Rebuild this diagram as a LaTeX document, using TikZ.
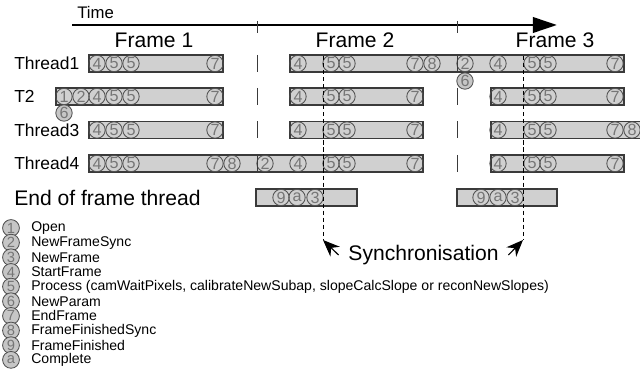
\documentclass[tikz,border=0pt]{standalone}
\usepackage{fontspec}
\setmainfont{Liberation Sans}
\usetikzlibrary{arrows.meta}

\definecolor{barfill}{HTML}{D0D0D0}
\definecolor{barline}{HTML}{3A3A3A}
\definecolor{evtline}{HTML}{505050}
\definecolor{evttext}{HTML}{767676}
\definecolor{keyfill}{HTML}{C6C6C6}

% one row of numbered events: #1 row y, #2 name prefix, #3 list of x/label
\newcommand{\events}[3]{%
  \foreach \x/\n [count=\k] in {#3} \node[evt] (#2-\k) at (\x,#1) {\n};}

\begin{document}
\begin{tikzpicture}[x=0.025cm, y=-0.025cm,
    threadbar/.style={fill=barfill, draw=barline, line width=0.8pt},
    evt/.style={circle, draw=evtline, text=evttext, line width=0.6pt, inner sep=0pt,
      minimum size=0.41cm, font=\fontsize{11.5}{11.5}\selectfont},
    loose/.style={evt, fill=keyfill},
    keytext/.style={anchor=west, inner sep=0pt, font=\fontsize{10}{12}\selectfont},
    rowlabel/.style={anchor=west, inner sep=0pt, font=\fontsize{12.4}{14}\selectfont},
    biglabel/.style={font=\fontsize{15}{18}\selectfont},
    sep/.style={draw=barline, line width=0.7pt},
    syncline/.style={densely dashed, line width=0.5pt},
    syncarrow/.style={-{Stealth[length=0.42cm, width=0.34cm]}, line width=0.8pt}]
  \useasboundingbox (0,0) rectangle (640,386);

  % Time axis
  \coordinate (tstart) at (72,25);
  \coordinate (tend) at (557,25);
  \draw[line width=2.1pt, -{Triangle[length=0.6cm, width=0.38cm]}] (tstart) -- (tend);
  \node[anchor=base west, inner sep=0pt, font=\fontsize{11.9}{14}\selectfont] (time) at (77,19) {Time};
  \node[biglabel] (f1) at (154,40) {Frame 1};
  \node[biglabel] (f2) at (355,40) {Frame 2};
  \node[biglabel] (f3) at (555,40) {Frame 3};

  % Thread names
  \node[rowlabel] (th1) at (14,63.5) {Thread1};
  \node[rowlabel] (th2) at (14,96.5) {T2};
  \node[rowlabel] (th3) at (14,130) {Thread3};
  \node[rowlabel] (th4) at (14,163.5) {Thread4};
  \node[rowlabel, font=\fontsize{15}{18}\selectfont] (eof) at (14,197.5) {End of frame thread};

  % Bars
  \draw[threadbar] (89,55) rectangle (223,72);
  \draw[threadbar] (290,55) rectangle (624,72);
  \draw[threadbar] (56,88) rectangle (223,105);
  \draw[threadbar] (290,88) rectangle (423,105);
  \draw[threadbar] (491,88) rectangle (624,105);
  \draw[threadbar] (89,121.5) rectangle (223,138.5);
  \draw[threadbar] (290,121.5) rectangle (423,138.5);
  \draw[threadbar] (491,121.5) rectangle (650,138.5);
  \draw[threadbar] (89,155) rectangle (423,172);
  \draw[threadbar] (491,155) rectangle (624,172);
  \draw[threadbar] (256,189) rectangle (357,206);
  \draw[threadbar] (457,189) rectangle (557,206);

  % Events
  \events{63.5}{ta}{97/4,114/5,131/5,215/7,298/4,331/5,347/5,415/7,432/8,465/2,498/4,532/5,548/5,615/7}
  \events{96.5}{tb}{64/1,81/2,97/4,114/5,131/5,215/7,298/4,331/5,347/5,415/7,498/4,532/5,548/5,615/7}
  \events{130}{tc}{97/4,114/5,131/5,215/7,298/4,331/5,347/5,415/7,498/4,532/5,548/5,615/7,632/8}
  \events{163.5}{td}{97/4,114/5,131/5,215/7,232/8,265/2,298/4,331/5,347/5,415/7,498/4,532/5,548/5,615/7}
  \events{197.5}{te}{281/9,297/a,315/3,481/9,498/a,515/3}
  \node[loose] (np1) at (64,113) {6};
  \node[loose] (np2) at (465,81) {6};

  % Frame boundaries
  \foreach \sx in {257,457} {
    \draw[sep] (\sx,21) -- (\sx,33);
    \foreach \ry in {63.5,96.5,130,163.5}
      \draw[sep] (\sx,\ry-8.5) -- (\sx,\ry+8.5);
  }

  % Synchronisation
  \coordinate (syncl) at (323,240);
  \coordinate (syncr) at (523,240);
  \draw[syncline] (323,56) -- (syncl);
  \draw[syncline] (523,56) -- (syncr);
  \node[biglabel, inner xsep=0.24cm] (sync) at (423.5,255) {Synchronisation};
  \draw[syncarrow] (sync.west) -- (syncl);
  \draw[syncarrow] (sync.east) -- (syncr);

  % Key
  \foreach \n/\t [count=\k from 0] in {1/Open, 2/NewFrameSync, 3/NewFrame, 4/StartFrame,
      5/{Process (camWaitPixels, calibrateNewSubap, slopeCalcSlope or reconNewSlopes)},
      6/NewParam, 7/EndFrame, 8/FrameFinishedSync, 9/FrameFinished, a/Complete} {
    \node[loose, minimum size=0.42cm, font=\fontsize{10.5}{10.5}\selectfont] (key\k) at (11,{228+14.65*\k}) {\n};
    \node[keytext] (keyt\k) at (31,{228+14.65*\k}) {\t};
  }
\end{tikzpicture}
\end{document}
